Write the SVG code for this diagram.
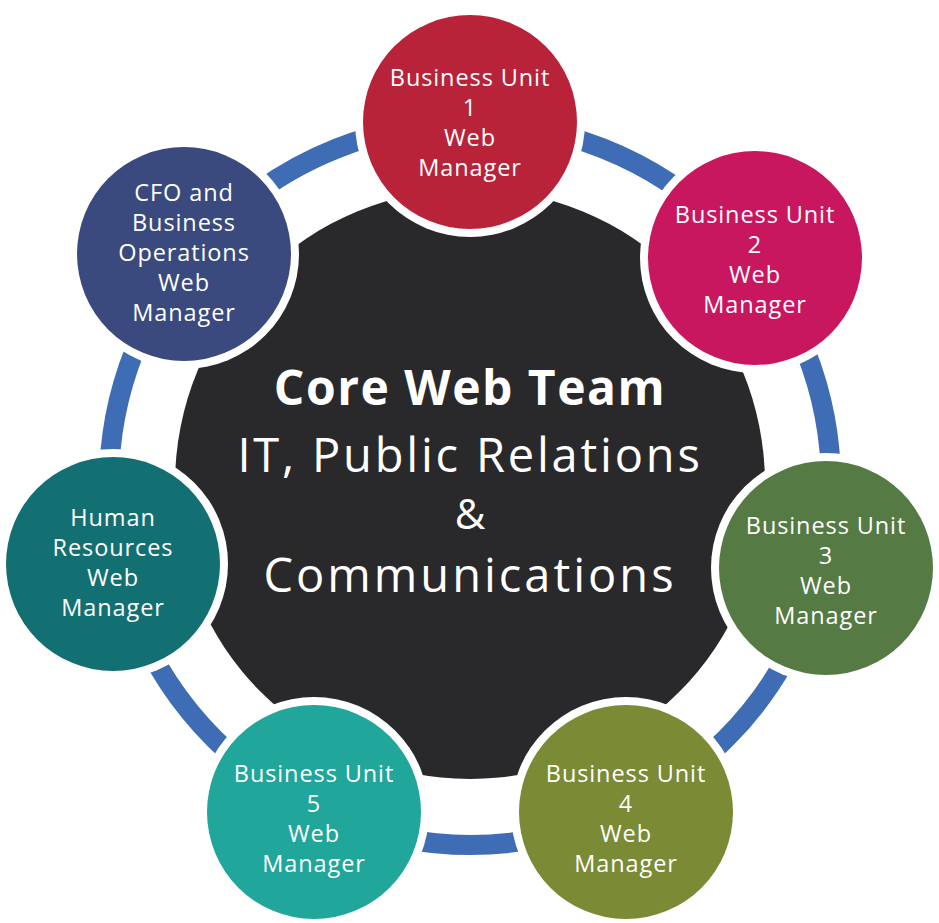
<svg xmlns="http://www.w3.org/2000/svg" width="939" height="923" viewBox="0 0 939 923">
<style>
.halo{fill:#ffffff}
.lbl{font-family:"Open Sans","Liberation Sans",sans-serif;font-size:23.5px;font-weight:500;letter-spacing:0.9px;fill:#ffffff;text-anchor:middle}
.core{font-family:"Open Sans","Liberation Sans",sans-serif;fill:#ffffff;text-anchor:middle}
</style>
<rect width="939" height="923" fill="#ffffff"/>
<g id="connectors">
<circle cx="470" cy="484" r="361" fill="none" stroke="#3f6db5" stroke-width="20"/>
</g>
<g id="core">
<circle cx="470" cy="484" r="295" fill="#29292b"/>
<text class="core" x="470" y="405" font-size="48" font-weight="700" letter-spacing="1.5">Core Web Team</text>
<text class="core" x="470" y="472" font-size="47" letter-spacing="2.8">IT, Public Relations</text>
<text class="core" x="470" y="529" font-size="42">&amp;</text>
<text class="core" x="470" y="592" font-size="47" letter-spacing="3">Communications</text>
</g>
<g id="bu1">
<circle class="halo" cx="470" cy="122" r="115"/>
<circle cx="470" cy="122" r="107" fill="#b8233a"/>
<text class="lbl" x="470" y="86">Business Unit</text>
<text class="lbl" x="470" y="116">1</text>
<text class="lbl" x="470" y="146">Web</text>
<text class="lbl" x="470" y="176">Manager</text>
</g>
<g id="bu2">
<circle class="halo" cx="755" cy="258" r="115"/>
<circle cx="755" cy="258" r="107" fill="#c8175f"/>
<text class="lbl" x="755" y="223">Business Unit</text>
<text class="lbl" x="755" y="253">2</text>
<text class="lbl" x="755" y="283">Web</text>
<text class="lbl" x="755" y="313">Manager</text>
</g>
<g id="bu3">
<circle class="halo" cx="826" cy="568" r="115"/>
<circle cx="826" cy="568" r="107" fill="#557a43"/>
<text class="lbl" x="826" y="534">Business Unit</text>
<text class="lbl" x="826" y="564">3</text>
<text class="lbl" x="826" y="594">Web</text>
<text class="lbl" x="826" y="624">Manager</text>
</g>
<g id="bu4">
<circle class="halo" cx="626" cy="812" r="115"/>
<circle cx="626" cy="812" r="107" fill="#7a8a35"/>
<text class="lbl" x="626" y="782">Business Unit</text>
<text class="lbl" x="626" y="812">4</text>
<text class="lbl" x="626" y="842">Web</text>
<text class="lbl" x="626" y="872">Manager</text>
</g>
<g id="bu5">
<circle class="halo" cx="314" cy="812" r="115"/>
<circle cx="314" cy="812" r="107" fill="#20a69a"/>
<text class="lbl" x="314" y="782">Business Unit</text>
<text class="lbl" x="314" y="812">5</text>
<text class="lbl" x="314" y="842">Web</text>
<text class="lbl" x="314" y="872">Manager</text>
</g>
<g id="hr">
<circle class="halo" cx="113" cy="564" r="115"/>
<circle cx="113" cy="564" r="107" fill="#137072"/>
<text class="lbl" x="113" y="526">Human</text>
<text class="lbl" x="113" y="556">Resources</text>
<text class="lbl" x="113" y="586">Web</text>
<text class="lbl" x="113" y="616">Manager</text>
</g>
<g id="cfo">
<circle class="halo" cx="184" cy="254" r="115"/>
<circle cx="184" cy="254" r="107" fill="#3a4a7e"/>
<text class="lbl" x="184" y="201">CFO and</text>
<text class="lbl" x="184" y="231">Business</text>
<text class="lbl" x="184" y="261">Operations</text>
<text class="lbl" x="184" y="291">Web</text>
<text class="lbl" x="184" y="321">Manager</text>
</g>
</svg>
